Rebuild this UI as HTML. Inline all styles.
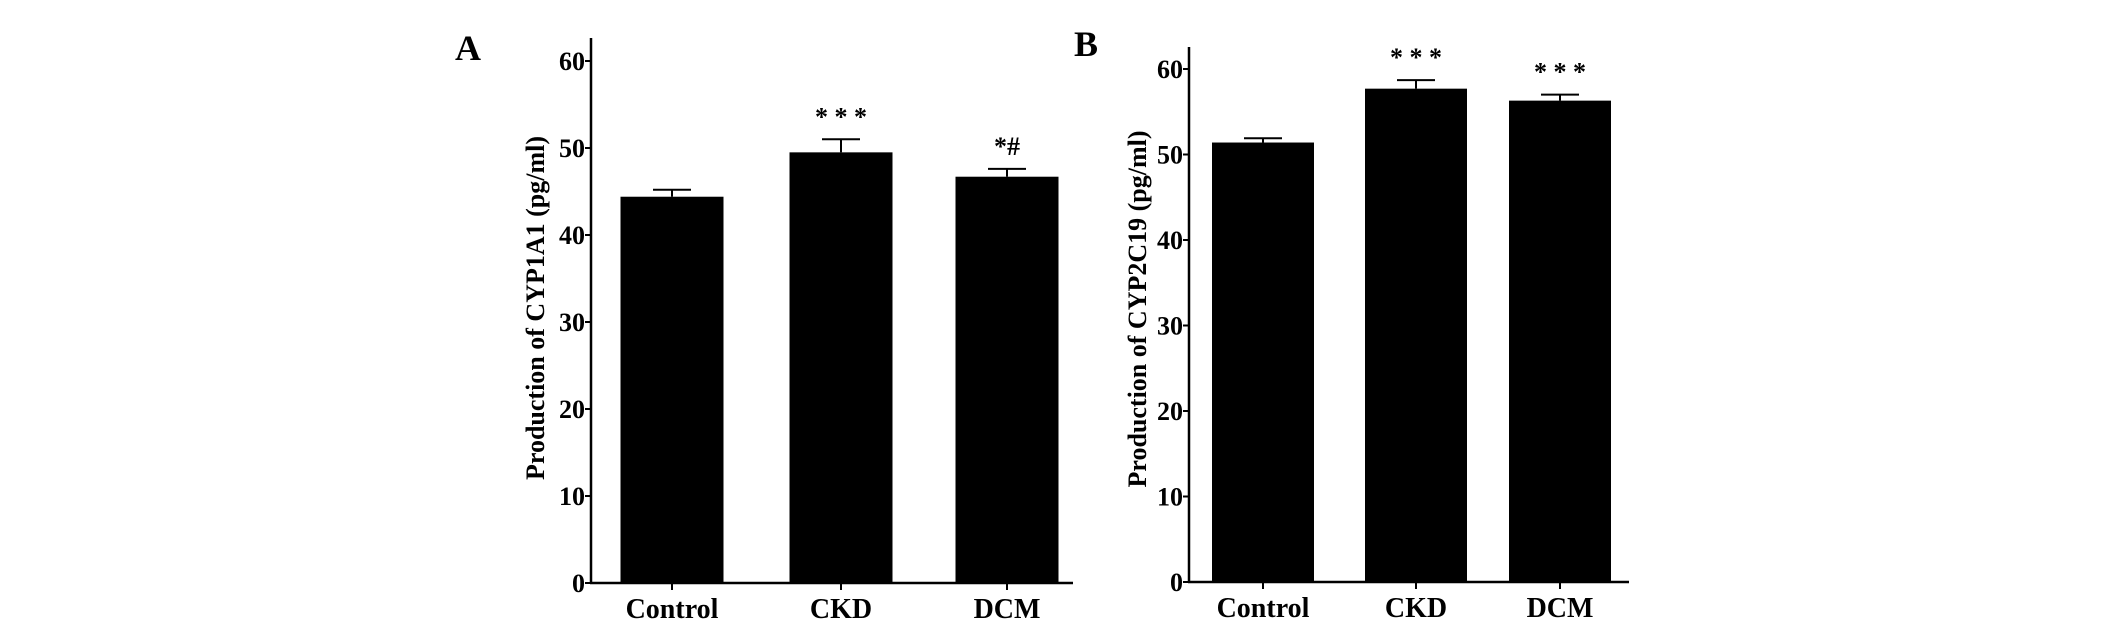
<!DOCTYPE html>
<html><head><meta charset="utf-8"><style>
html,body{margin:0;padding:0;background:#fff;}
svg{display:block;}
text{font-family:"Liberation Serif",serif;font-weight:bold;fill:#000;}
</style></head>
<body>
<svg id="fig" width="2126" height="627" viewBox="0 0 2126 627" xmlns="http://www.w3.org/2000/svg"></svg>
<script>
const categories = ["Control", "CKD", "DCM"];
const tickValues = [0, 10, 20, 30, 40, 50, 60];
const valuesA = [44.4, 49.5, 46.7];
const errorsA = [0.8, 1.5, 0.9];
const marksA = ["", "* * *", "*#"];
const valuesB = [51.4, 57.7, 56.3];
const errorsB = [0.5, 1.0, 0.7];
const marksB = ["", "* * *", "* * *"];

const NS = "http://www.w3.org/2000/svg";
const svg = document.getElementById("fig");
function mk(tag, attrs, parent) {
  const e = document.createElementNS(NS, tag);
  for (const k in attrs) e.setAttribute(k, attrs[k]);
  (parent || svg).appendChild(e);
  return e;
}

function panel(cfg) {
  const g = mk("g", {});
  
  
  const y = v => cfg.base - v * cfg.per10 / 10;
  const x = i => cfg.centers[i];

  const letter = mk("text", {x: cfg.letterX, y: cfg.letterY, "font-size": 36}, g);
  letter.textContent = cfg.letter;
  
  

  const ax = mk("line", {x1: cfg.axisX, y1: cfg.axisTop, x2: cfg.axisX, y2: cfg.base + 1, stroke: "#000", "stroke-width": 2.5}, g);
  
  
  const bx = mk("line", {x1: cfg.axisX - 1, y1: cfg.base, x2: cfg.axisEnd, y2: cfg.base, stroke: "#000", "stroke-width": 2.5}, g);
  
  

  tickValues.forEach(t => {
    const tk = mk("line", {x1: cfg.axisX - 6, y1: y(t), x2: cfg.axisX, y2: y(t), stroke: "#000", "stroke-width": 2}, g);
    
    
    const tl = mk("text", {x: cfg.axisX - 6, y: y(t) + 9, "font-size": 26, "text-anchor": "end"}, g);
    tl.textContent = t;
    
    
  });

  const yt = mk("text", {x: 0, y: 0, "font-size": 26, "text-anchor": "middle", transform: `translate(${cfg.titleX},${cfg.titleY}) rotate(-90)`}, g);
  yt.textContent = cfg.title;
  
  

  categories.forEach((c, i) => {
    const v = cfg.values[i], e = cfg.errors[i];
    const bar = mk("rect", {x: x(i) - cfg.barW / 2, y: y(v), width: cfg.barW, height: cfg.base - y(v), fill: "#000"}, g);
    
    
    const ev = mk("line", {x1: x(i), y1: y(v), x2: x(i), y2: y(v + e), stroke: "#000", "stroke-width": 2}, g);
    
    
    const ec = mk("line", {x1: x(i) - 19, y1: y(v + e), x2: x(i) + 19, y2: y(v + e), stroke: "#000", "stroke-width": 2}, g);
    
    
    if (cfg.marks[i]) {
      const m = mk("text", {x: x(i), y: y(v + e) - 14, "font-size": 26, "text-anchor": "middle"}, g);
      m.textContent = cfg.marks[i];
      
      
    }
    const xt = mk("line", {x1: x(i), y1: cfg.base, x2: x(i), y2: cfg.base + 7, stroke: "#000", "stroke-width": 2}, g);
    
    
    const xl = mk("text", {x: x(i), y: cfg.base + 35, "font-size": 28, "text-anchor": "middle"}, g);
    xl.textContent = c;
    
    
  });
}

panel({name: "panel-a", letter: "A", letterX: 455, letterY: 60, axisX: 591, axisTop: 38, axisEnd: 1073, base: 583, per10: 87,
  centers: [672, 841, 1007], barW: 103, values: valuesA, errors: errorsA, marks: marksA,
  title: "Production of CYP1A1 (pg/ml)", titleX: 544, titleY: 308});
panel({name: "panel-b", letter: "B", letterX: 1074, letterY: 56, axisX: 1189, axisTop: 47, axisEnd: 1629, base: 582, per10: 85.5,
  centers: [1263, 1416, 1560], barW: 102, values: valuesB, errors: errorsB, marks: marksB,
  title: "Production of CYP2C19 (pg/ml)", titleX: 1146, titleY: 309});
</script>
</body></html>
